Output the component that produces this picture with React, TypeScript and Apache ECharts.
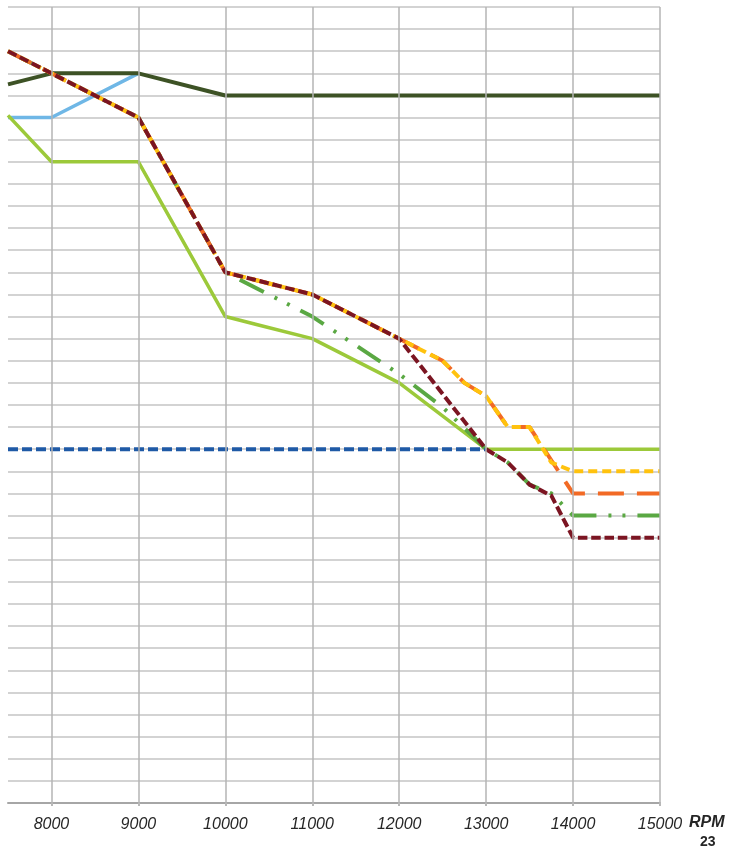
import React, { useEffect, useRef } from "react";
import * as echarts from "echarts";

const rpmTicks = [8000, 9000, 10000, 11000, 12000, 13000, 14000, 15000];

const oliveRpm = [7500, 8000, 9000, 10000, 15000];
const oliveVal = [32.5, 33, 33, 32, 32];

const blueRpm = [7500, 8000, 9000];
const blueVal = [31, 31, 33];

const limeRpm = [7500, 8000, 9000, 10000, 11000, 12000, 13000, 15000];
const limeVal = [31.1, 29, 29, 22, 21, 19, 16, 16];

const dashBlueRpm = [7500, 13000];
const dashBlueVal = [16, 16];

const greenRpm = [7500, 8000, 9000, 10000, 11000, 12000, 12500, 13000, 13250, 13500, 13750, 14000, 15000];
const greenVal = [34, 33, 31, 24, 22, 19.4, 17.9, 16, 15.4, 14.4, 14, 13, 13];

const orangeRpm = [7500, 8000, 9000, 10000, 11000, 12000, 12500, 12750, 13000, 13250, 13500, 14000, 15000];
const orangeVal = [34, 33, 31, 24, 23, 21, 20, 19, 18.4, 17, 17, 14, 14];

const yellowRpm = [7500, 8000, 9000, 10000, 11000, 12000, 12500, 12750, 13000, 13250, 13500, 13750, 14000, 15000];
const yellowVal = [34, 33, 31, 24, 23, 21, 20, 19, 18.4, 17, 17, 15.4, 15, 15];

const maroonRpm = [7500, 8000, 9000, 10000, 11000, 12000, 13000, 13250, 13500, 13750, 14000, 15000];
const maroonVal = [34, 33, 31, 24, 23, 21, 16, 15.4, 14.4, 13.9, 12, 12];

const pairs = (xs: number[], ys: number[]) => xs.map((x, i) => [x, ys[i]]);

const line = (name: string, xs: number[], ys: number[], color: string, width: number, type: any) => ({
  name,
  type: "line",
  data: pairs(xs, ys),
  showSymbol: false,
  symbol: "none",
  smooth: false,
  lineStyle: { color, width, type, cap: "butt" },
  itemStyle: { color },
});

export default function App() {
  const ref = useRef<HTMLDivElement>(null);
  useEffect(() => {
    if (!ref.current) return;
    const chart = echarts.init(ref.current, null, { renderer: "svg" });
    const labelFont = '"Liberation Sans", Arial, sans-serif';
    chart.setOption({
      animation: false,
      grid: { left: 8, right: 69, top: 7, bottom: 46, containLabel: false },
      xAxis: {
        type: "value",
        min: 7500,
        max: 15000,
        interval: 500,
        axisLine: { show: true, lineStyle: { color: "#a6a6a6", width: 2 } },
        axisTick: { show: true, customValues: rpmTicks, length: 3, lineStyle: { color: "#b8b8b8", width: 2 } },
        axisLabel: {
          show: true,
          customValues: rpmTicks,
          margin: 12,
          color: "#262626",
          fontStyle: "italic",
          fontSize: 16,
          fontFamily: labelFont,
          formatter: (v: number) => String(v),
        },
        splitLine: { show: false },
      },
      yAxis: {
        type: "value",
        min: 0,
        max: 36,
        interval: 1,
        axisLine: { show: false },
        axisTick: { show: false },
        axisLabel: { show: false },
        splitLine: { show: true, lineStyle: { color: "#c4c4c4", width: 1.5 } },
      },
      graphic: [
        {
          type: "text",
          left: 689,
          top: 813,
          style: { text: "RPM", font: "italic bold 16px " + labelFont, fill: "#262626" },
        },
        {
          type: "text",
          left: 700,
          top: 834,
          style: { text: "23", font: "bold 14px " + labelFont, fill: "#262626" },
        },
      ],
      series: [
        {
          name: "vgrid",
          type: "line",
          data: [],
          silent: true,
          markLine: {
            silent: true,
            symbol: "none",
            label: { show: false },
            lineStyle: { color: "#b4b4b4", width: 1.5, type: "solid" },
            data: rpmTicks.map((v) => ({ xAxis: v })),
          },
        },
        line("blue", blueRpm, blueVal, "#6fb7e6", 3.5, "solid"),
        line("lime", limeRpm, limeVal, "#9cc93a", 3.5, "solid"),
        line("olive", oliveRpm, oliveVal, "#3d5225", 4, "solid"),
        line("dashBlue", dashBlueRpm, dashBlueVal, "#1f5aa6", 4, [10, 4]),
        line("green", greenRpm, greenVal, "#5aa843", 4, [27, 12, 3, 11, 3, 12]),
        line("orange", orangeRpm, orangeVal, "#f26a25", 4, [26, 13]),
        line("yellow", yellowRpm, yellowVal, "#ffc20e", 4, [9, 5]),
        line("maroon", maroonRpm, maroonVal, "#7b1522", 4, [9.5, 3.8]),
      ],
    });
    return () => chart.dispose();
  }, []);
  return <div ref={ref} style={{ position: "fixed", left: 0, top: 0, width: 729, height: 849 }} />;
}
